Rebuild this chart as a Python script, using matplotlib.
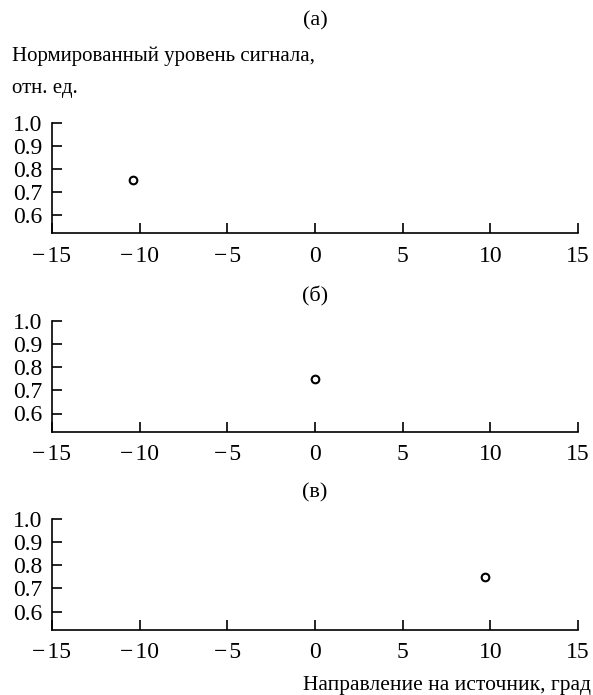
import matplotlib
matplotlib.use('Agg')
import matplotlib.pyplot as plt

plt.rcParams.update({
    'font.family': ['Liberation Serif', 'DejaVu Serif'],
    'font.size': 15,
})

# data: one point per panel
panel_titles = ['(а)', '(б)', '(в)']
source_dir = [-10.4, 0.0, 9.7]
signal_level = [0.75, 0.75, 0.75]

x_ticks = [-15, -10, -5, 0, 5, 10, 15]
y_ticks = [0.6, 0.7, 0.8, 0.9, 1.0]

W, H = 593, 695
fig = plt.figure(figsize=(W / 100, H / 100), dpi=100)

# (bottom_px, top_px, title_center_px) of each panel
boxes = [(233, 123, 21), (432, 321, 296), (630, 519, 493)]
left_px, right_px = 52, 578

for i, (bot, top, ttl) in enumerate(boxes):
    ax = fig.add_axes([left_px / W, 1 - bot / H, (right_px - left_px) / W, (bot - top) / H])
    ax.plot([source_dir[i]], [signal_level[i]], 'o', mfc='white', mec='black',
            mew=1.5, ms=5.5)
    ax.set_xlim(-15, 15)
    ax.set_ylim(0.52, 1.0)
    ax.set_xticks(x_ticks)
    ax.set_xticklabels([str(t).replace('-', '\u2212\u200a') for t in x_ticks], fontsize=17)
    ax.set_yticks(y_ticks)
    ax.set_yticklabels([f'{t:.1f}' for t in y_ticks], fontsize=17)
    ax.spines['top'].set_visible(False)
    ax.spines['right'].set_visible(False)
    for s in ('left', 'bottom'):
        ax.spines[s].set_linewidth(1.2)
    ax.tick_params(axis='both', direction='in', length=7, width=1.2)
    ax.tick_params(axis='x', pad=9)
    ax.tick_params(axis='y', pad=7)
    fig.text((left_px + right_px) / 2 / W, 1 - ttl / H, panel_titles[i],
             ha='center', va='center', fontsize=16)

fig.text(12 / W, 1 - 61 / H, 'Нормированный уровень сигнала,', ha='left', va='baseline')
fig.text(12 / W, 1 - 93 / H, 'отн. ед.', ha='left', va='baseline')
fig.text(591 / W, 1 - 690 / H, 'Направление на источник, град', ha='right', va='baseline',
         fontsize=15.5)

fig.savefig('out.png', dpi=100)
